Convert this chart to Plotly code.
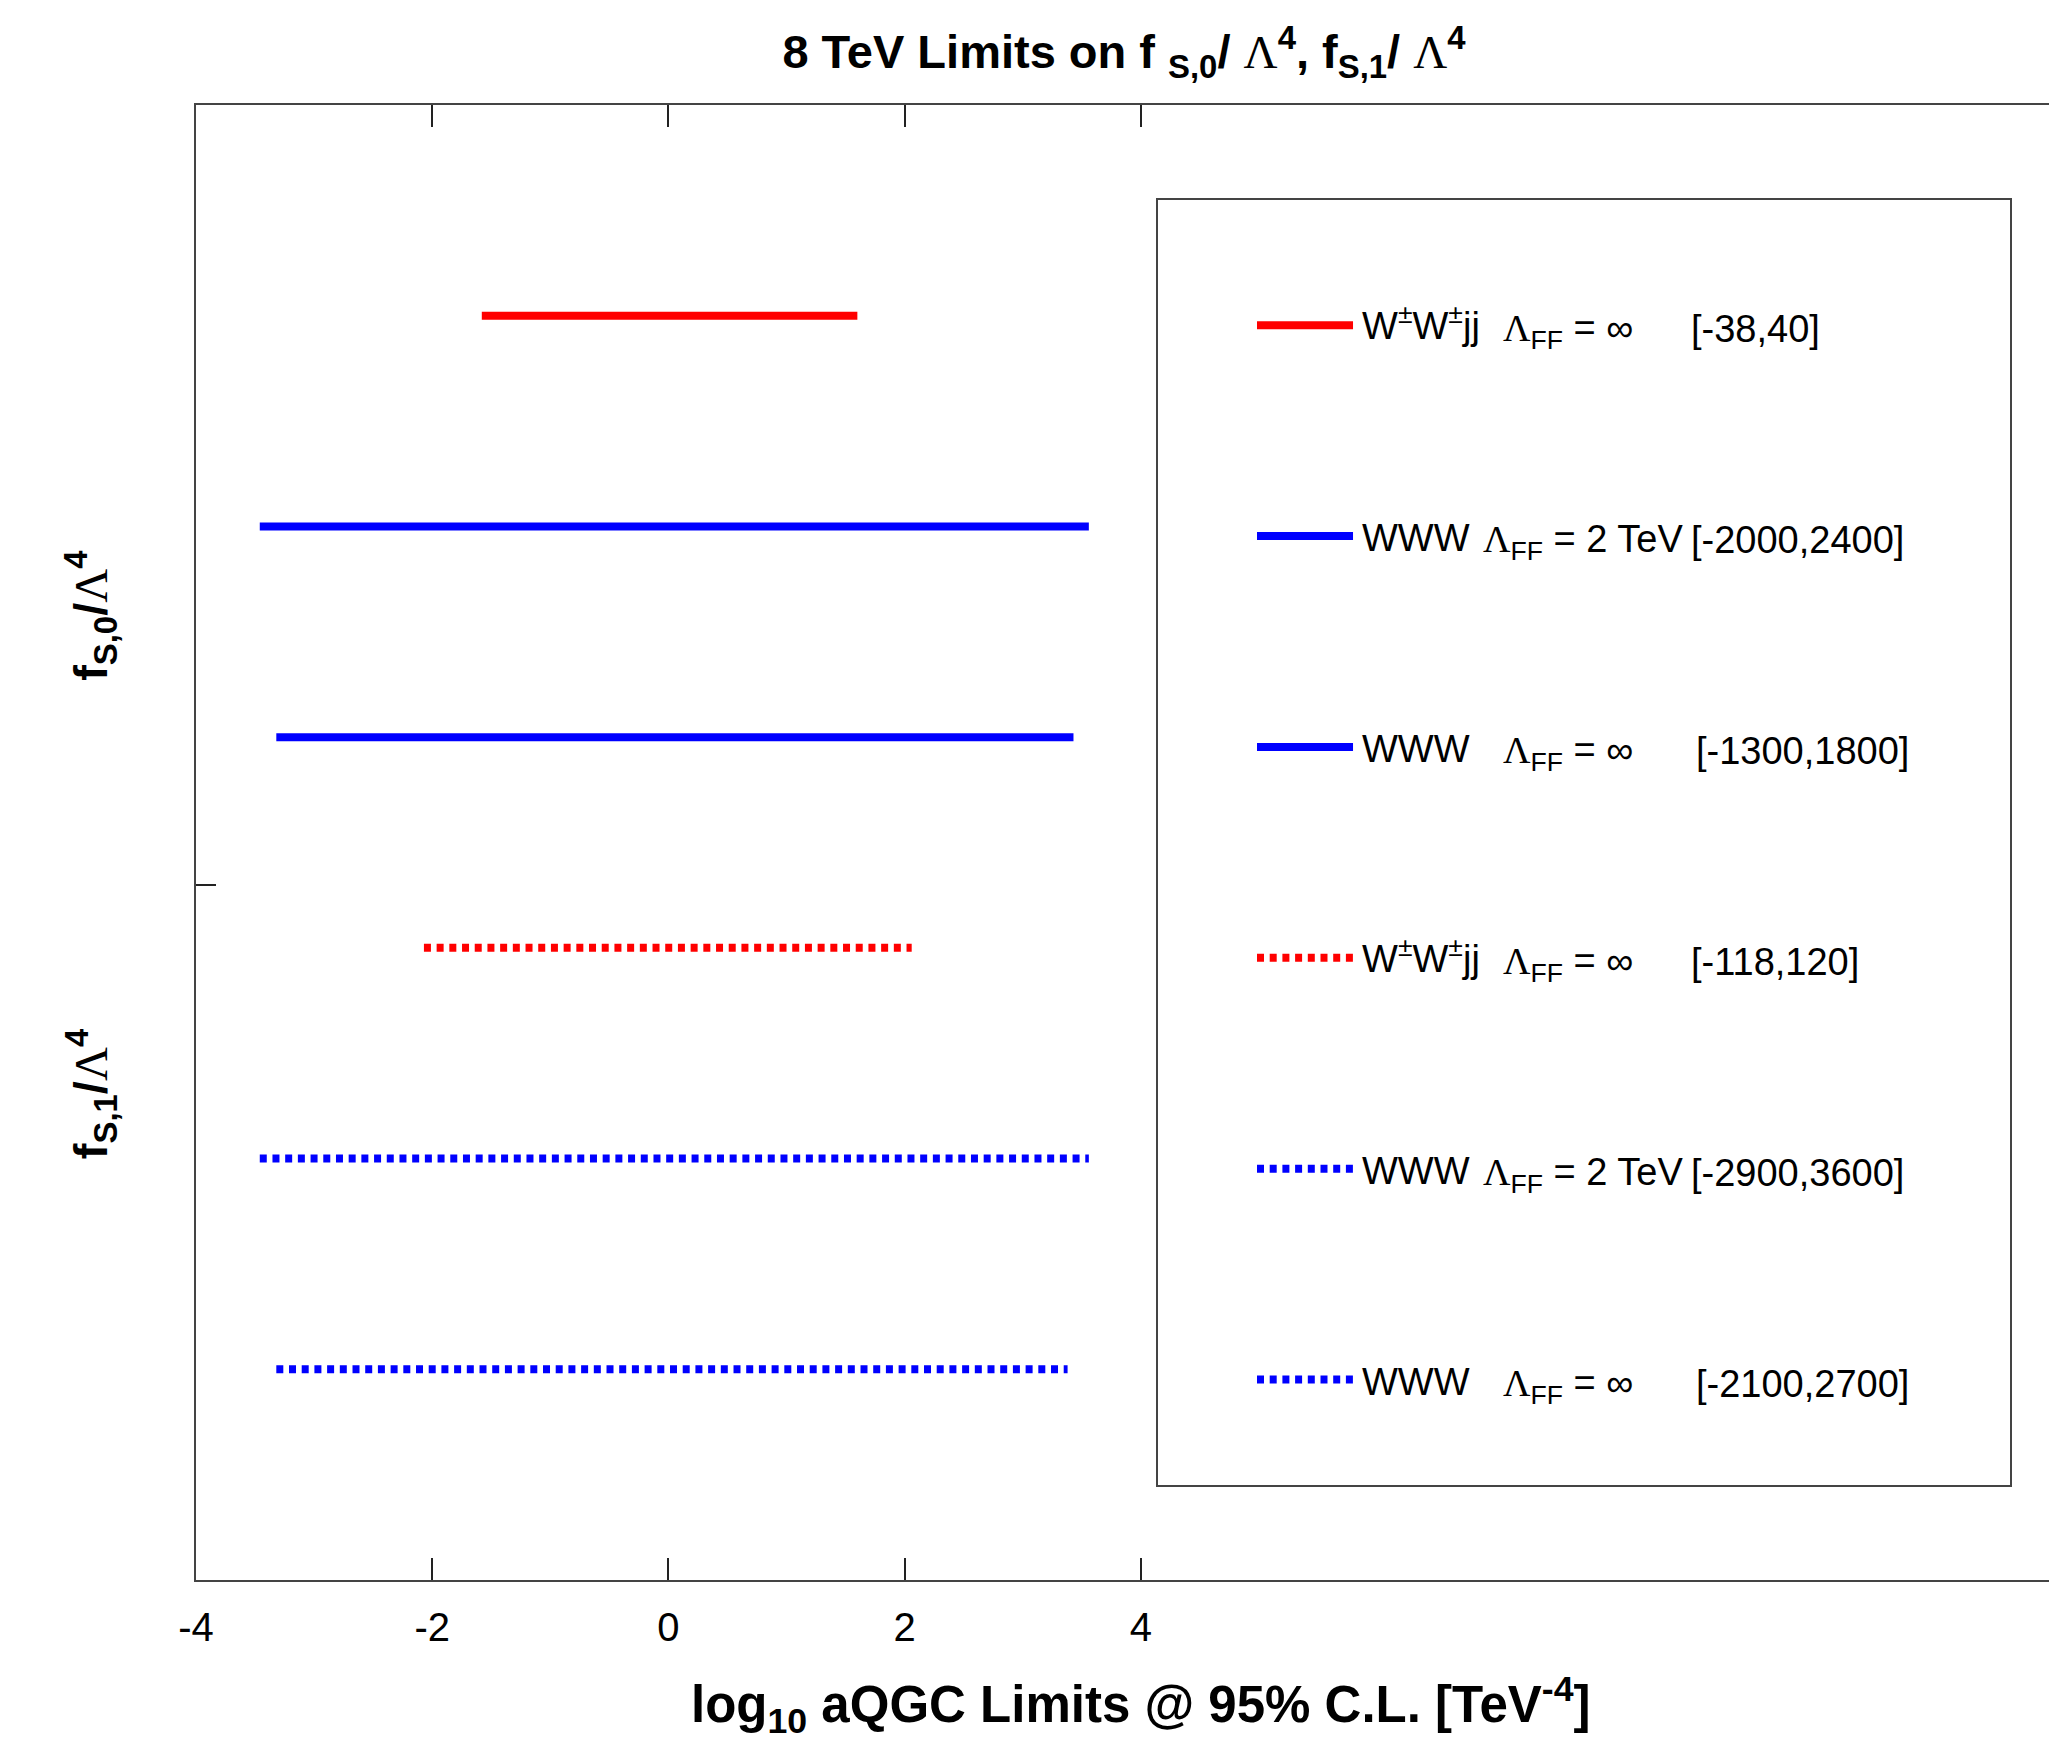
import plotly.graph_objects as go

# ---------------- data ----------------
rows = [1, 2, 3, 4, 5, 6]
process = ["W<sup>±</sup>W<sup>±</sup>jj", "WWW", "WWW", "W<sup>±</sup>W<sup>±</sup>jj", "WWW", "WWW"]
operator = ["fS0", "fS0", "fS0", "fS1", "fS1", "fS1"]
form_factor = ["∞", "2 TeV", "∞", "∞", "2 TeV", "∞"]
limit_text = ["[-38,40]", "[-2000,2400]", "[-1300,1800]", "[-118,120]", "[-2900,3600]", "[-2100,2700]"]
log_lower = [-1.58, -3.46, -3.32, -2.07, -3.46, -3.32]
log_upper = [1.60, 3.56, 3.43, 2.06, 3.56, 3.38]
x_ticks = [-4, -2, 0, 2, 4]
op_labels = ["f<sub>S,0</sub>/<span style=\"font-family:'Liberation Serif';font-weight:normal\">Λ</span><sup>4</sup>",
             "f<sub>S,1</sub>/<span style=\"font-family:'Liberation Serif';font-weight:normal\">Λ</span><sup>4</sup>"]
op_label_pos = [2.42, 4.69]

# ---------------- styling ----------------
W, H = 2049, 1743
ML, MR, MT, MB = 196, 0, 105, 163
FONT = "Liberation Sans"
LAM = "<span style=\"font-family:'Liberation Serif'\">Λ</span>"
LAMB = "<span style=\"font-family:'Liberation Serif';font-weight:normal\">Λ</span>"
AXC = "#444444"

def color_of(p):
    return "#ff0000" if "jj" in p else "#0000ff"

def dash_of(op):
    return "solid" if op == "fS0" else "7px,5.7px"

fig = go.Figure()

for i in range(len(rows)):
    fig.add_trace(go.Scatter(
        x=[log_lower[i], log_upper[i]], y=[rows[i], rows[i]],
        mode="lines", line=dict(color=color_of(process[i]), width=8, dash=dash_of(operator[i])),
        showlegend=False, hoverinfo="skip", xaxis="x", yaxis="y"))

# legend box drawn as a second small subplot
leg_x0, leg_x1 = 0.1162, 0.2289
for i in range(len(rows)):
    fig.add_trace(go.Scatter(
        x=[leg_x0, leg_x1], y=[rows[i], rows[i]],
        mode="lines", line=dict(color=color_of(process[i]), width=8, dash=dash_of(operator[i])),
        showlegend=False, hoverinfo="skip", xaxis="x2", yaxis="y2"))

annotations = []
for i in range(len(rows)):
    ff = form_factor[i]
    lam_x = 0.403 if ff == "∞" else 0.379
    rng_x = 0.6235 if (ff != "∞" or "jj" in process[i]) else 0.6295
    common = dict(xref="x2", yref="y2", y=rows[i], yanchor="middle", xanchor="left",
                  showarrow=False, font=dict(family=FONT, size=38, color="black"))
    annotations.append(dict(text=process[i], x=0.2365, yshift=-2 if "jj" not in process[i] else 2, **common))
    annotations.append(dict(text=LAM + "<sub>FF</sub> = " + ff, x=lam_x, yshift=-6, **common))
    annotations.append(dict(text=limit_text[i], x=rng_x, yshift=-4, **common))

for lbl, pos in zip(op_labels, op_label_pos):
    annotations.append(dict(text="<b>" + lbl + "</b>", xref="paper", yref="y", x=-0.0567, y=pos,
                            xanchor="center", yanchor="middle", textangle=-90, showarrow=False,
                            font=dict(family=FONT, size=47, color="black")))

annotations.append(dict(text="<b>log<sub>10</sub> aQGC Limits @ 95% C.L. [TeV<sup>-4</sup>]</b>",
                        xref="x", yref="paper", x=4, y=-0.085, xanchor="center", yanchor="middle",
                        showarrow=False, font=dict(family=FONT, size=51, color="black")))

fig.update_layout(
    width=W, height=H,
    margin=dict(l=ML, r=MR, t=MT, b=MB, pad=0),
    paper_bgcolor="white", plot_bgcolor="white",
    showlegend=False,
    title=dict(text="8 TeV Limits on f <sub>S,0</sub>/ " + LAMB + "<sup>4</sup>, f<sub>S,1</sub>/ " + LAMB + "<sup>4</sup>",
               x=1124 / W, xanchor="center", xref="container",
               y=1 - 52 / H, yanchor="middle", yref="container",
               font=dict(family=FONT, size=47, color="black", weight="bold")),
    xaxis=dict(range=[-4, -4 + (W - ML - MR) / 118.1], tickvals=x_ticks, ticktext=[str(t) for t in x_ticks],
               showgrid=False, zeroline=False, showline=True, linecolor=AXC, linewidth=2,
               ticks="inside", ticklen=22, tickwidth=1.5, tickcolor="#222222", mirror="ticks",
               tickfont=dict(family=FONT, size=40, color="black"), ticklabelstandoff=11,
               domain=[0, 1]),
    yaxis=dict(range=[7, 0], tickvals=[3.7], showticklabels=False,
               showgrid=False, zeroline=False, showline=True, linecolor=AXC, linewidth=2,
               ticks="inside", ticklen=20, tickwidth=1.5, tickcolor="#222222", mirror=False,
               domain=[0, 1]),
    xaxis2=dict(domain=[(1158 - ML) / (W - ML - MR), (2010 - ML) / (W - ML - MR)], range=[0, 1],
                anchor="y2", showgrid=False, zeroline=False, showticklabels=False, ticks="",
                showline=True, linecolor=AXC, linewidth=2, mirror=True),
    yaxis2=dict(domain=[(H - MB - 1485) / (H - MT - MB), (H - MB - 200) / (H - MT - MB)], range=[6.50, 0.406],
                anchor="x2", showgrid=False, zeroline=False, showticklabels=False, ticks="",
                showline=True, linecolor=AXC, linewidth=2, mirror=True),
    annotations=annotations,
)

fig.write_html("out.html", config={"displayModeBar": False},
               post_script="document.body.style.margin='0';document.body.style.overflow='hidden';")
